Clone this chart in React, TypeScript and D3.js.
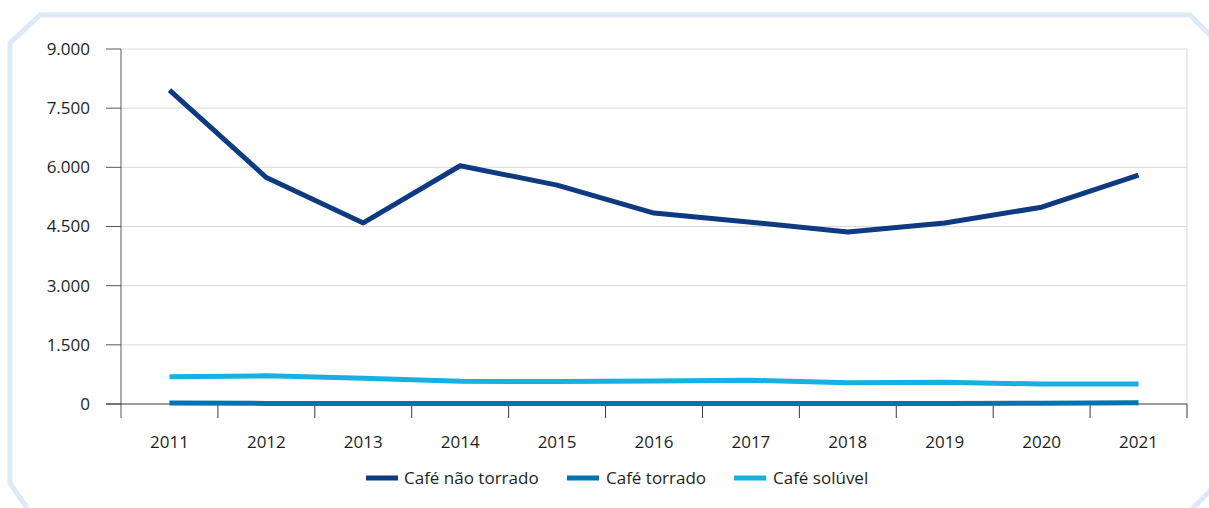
import React from 'react'
import * as d3 from 'd3'

const width = 1209
const height = 508

const years = ['2011', '2012', '2013', '2014', '2015', '2016', '2017', '2018', '2019', '2020', '2021']
const naoTorrado = [7960, 5740, 4590, 6040, 5550, 4840, 4610, 4360, 4590, 4990, 5800]
const torrado = [25, 15, 15, 10, 10, 10, 10, 10, 10, 20, 30]
const soluvel = [690, 715, 650, 575, 570, 585, 600, 540, 550, 505, 505]
const yTicks = [0, 1500, 3000, 4500, 6000, 7500, 9000]

const series = [
    {name: 'Café não torrado', values: naoTorrado, color: '#0d3a80'},
    {name: 'Café torrado', values: torrado, color: '#0073b1'},
    {name: 'Café solúvel', values: soluvel, color: '#16b1e0'},
]

const left = 121
const right = 1187
const top = 49
const bottom = 404

const font = '"Open Sans", sans-serif'
const fontSize = 17
const textColor = '#1e1e1e'

export default function App() {
    const xScale = d3.scaleBand()
        .domain(years)
        .range([left, right])
    const yScale = d3.scaleLinear()
        .domain([0, 9000])
        .range([bottom, top])

    const line = d3.line<number>()
        .x((d, i) => xScale(years[i])! + xScale.bandwidth() / 2)
        .y(d => yScale(d))

    const fmt = (v: number) => d3.format(',')(v).replace(/,/g, '.')

    // frame: chamfered rectangle running past right/bottom edges
    const frame = 'M10,43 L40,15 L1190,15 L1225,50 L1225,476 L1181,520 L35,520 L10,483 Z'

    // legend positions
    const legend = [
        {x: 366, tx: 404},
        {x: 567, tx: 606},
        {x: 734, tx: 773},
    ]

    return (
        <svg width={width} height={height} style={{position: 'absolute', left: 0, top: 0}}>
            <path d={frame} fill="none" stroke="#dde9f6" strokeWidth={5} />

            {yTicks.filter(t => t > 0).map(t => (
                <line key={t} x1={left} x2={right} y1={yScale(t)} y2={yScale(t)} stroke="#d9d9d9" strokeWidth={1} />
            ))}
            <line x1={right} x2={right} y1={top} y2={bottom} stroke="#d9d9d9" strokeWidth={1} />

            {/* y axis */}
            <line x1={left} x2={left} y1={top} y2={418} stroke="#595959" strokeWidth={1} />
            {yTicks.map(t => (
                <g key={t}>
                    <line x1={106} x2={left} y1={yScale(t)} y2={yScale(t)} stroke="#595959" strokeWidth={1} />
                    <text x={90} y={yScale(t)} dy="0.35em" textAnchor="end" fontFamily={font} fontSize={fontSize} fill={textColor}>{fmt(t)}</text>
                </g>
            ))}

            {/* x axis */}
            <line x1={106} x2={right} y1={bottom} y2={bottom} stroke="#3a3a3a" strokeWidth={1} />
            {years.map(y => (
                <line key={'t' + y} x1={xScale(y)! + xScale.bandwidth()} x2={xScale(y)! + xScale.bandwidth()} y1={bottom} y2={418} stroke="#3a3a3a" strokeWidth={1} />
            ))}
            {years.map(y => (
                <text key={y} x={xScale(y)! + xScale.bandwidth() / 2} y={448} textAnchor="middle" fontFamily={font} fontSize={fontSize} fill={textColor}>{y}</text>
            ))}

            {series.slice().reverse().map(s => (
                <path key={s.name} d={line(s.values)!} fill="none" stroke={s.color} strokeWidth={5} strokeLinejoin="round" />
            ))}

            {series.map((s, i) => (
                <g key={'l' + s.name}>
                    <line x1={legend[i].x} x2={legend[i].x + 32} y1={478} y2={478} stroke={s.color} strokeWidth={5} />
                    <text x={legend[i].tx} y={478} dy="0.35em" fontFamily={font} fontSize={fontSize} fill={textColor}>{s.name}</text>
                </g>
            ))}
        </svg>
    )
}
